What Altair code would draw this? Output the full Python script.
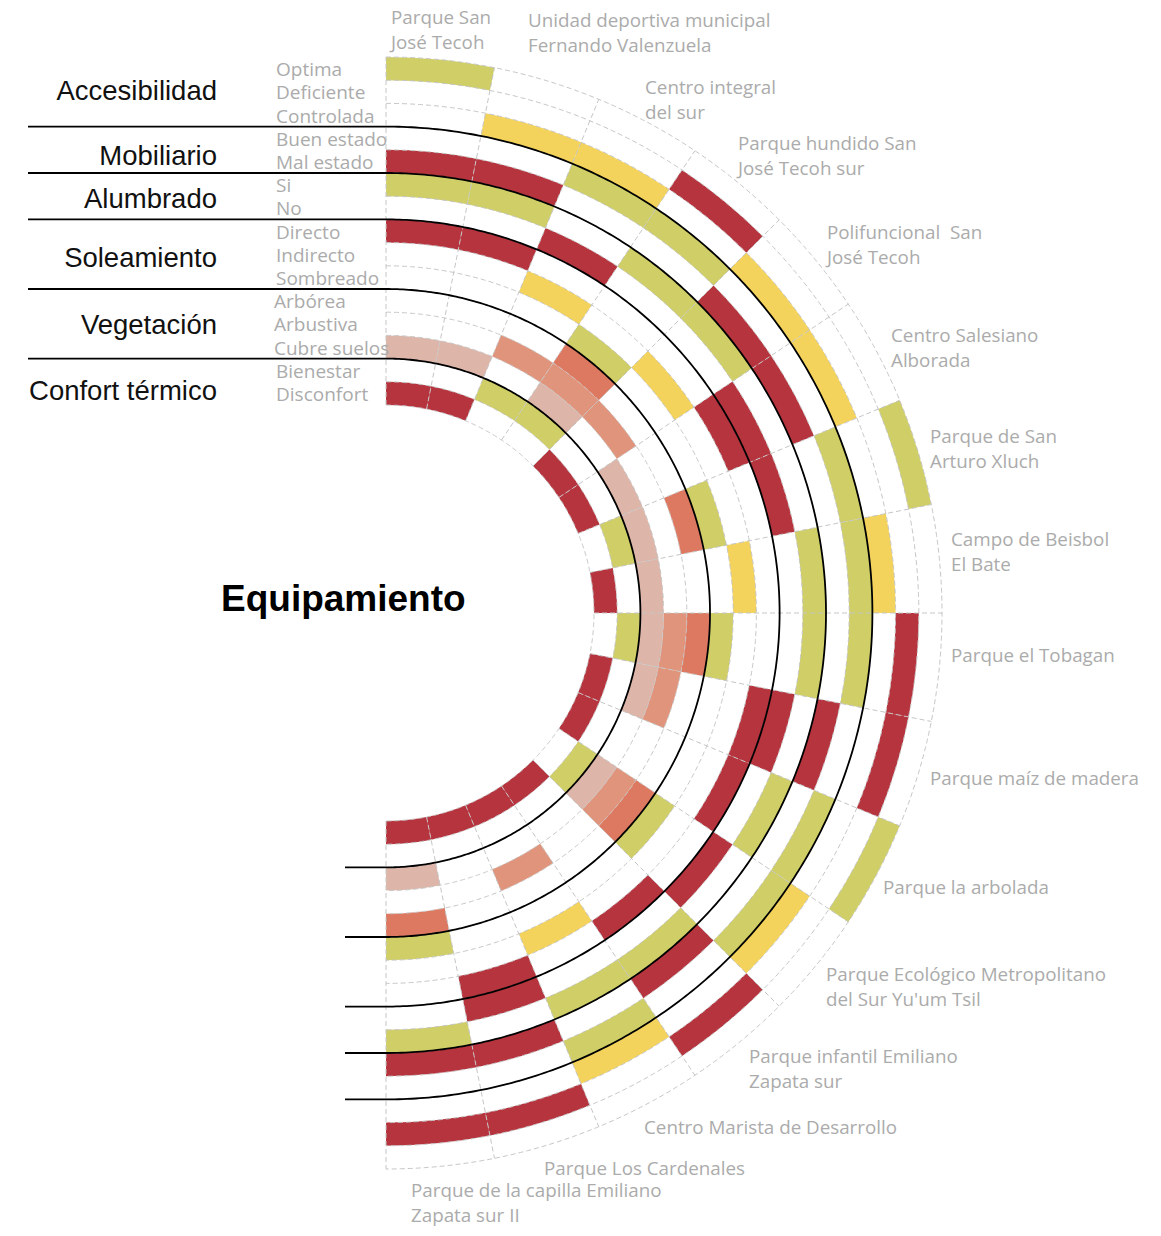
import math
import altair as alt
import pandas as pd

# ---------------------------------------------------------------- data
parks = [
    "Parque San\nJosé Tecoh",
    "Unidad deportiva municipal\nFernando Valenzuela",
    "Centro integral\ndel sur",
    "Parque hundido San\nJosé Tecoh sur",
    "Polifuncional\u00a0 San\nJosé Tecoh",
    "Centro Salesiano\nAlborada",
    "Parque de San\nArturo Xluch",
    "Campo de Beisbol\nEl Bate",
    "Parque el Tobagan",
    "Parque maíz de madera",
    "Parque la arbolada",
    "Parque Ecológico Metropolitano\ndel Sur Yu'um Tsil",
    "Parque infantil Emiliano\nZapata sur",
    "Centro Marista de Desarrollo",
    "Parque Los Cardenales",
    "Parque de la capilla Emiliano\nZapata sur II",
]

categories = ["Accesibilidad", "Mobiliario", "Alumbrado", "Soleamiento",
              "Vegetación", "Confort térmico"]
category_options = [
    ["Optima", "Deficiente", "Controlada"],
    ["Buen estado", "Mal estado"],
    ["Si", "No"],
    ["Directo", "Indirecto", "Sombreado"],
    ["Arbórea", "Arbustiva", "Cubre suelos"],
    ["Bienestar", "Disconfort"],
]

accesibilidad = ["Optima", "Controlada", "Controlada", "Deficiente", "Controlada",
                 "Controlada", "Optima", "Controlada", "Deficiente", "Deficiente",
                 "Optima", "Controlada", "Deficiente", "Controlada", "Deficiente",
                 "Deficiente"]
mobiliario = ["Mal estado", "Mal estado", "Buen estado", "Buen estado", "Mal estado",
              "Mal estado", "Buen estado", "Buen estado", "Buen estado", "Mal estado",
              "Buen estado", "Buen estado", "Mal estado", "Buen estado", "Mal estado",
              "Mal estado"]
alumbrado = [["Si"], ["Si"], ["No"], ["Si"], ["Si"], ["No"], ["No"], ["Si"], ["Si"],
             ["No"], ["Si"], ["No"], ["Si"], ["Si"], ["No"], ["Si"]]
soleamiento = [["Directo"], ["Directo"], ["Indirecto"], ["Sombreado"], ["Indirecto"],
               ["Directo"], ["Sombreado"], ["Indirecto"], ["Sombreado"], ["Directo"],
               ["Directo"], ["Sombreado"], ["Directo"], ["Indirecto"], ["Directo"],
               ["Sombreado"]]
vegetacion = [["Cubre suelos"], ["Cubre suelos"], ["Arbustiva"],
              ["Arbórea", "Arbustiva", "Cubre suelos"], ["Arbustiva"], ["Cubre suelos"],
              ["Arbórea", "Cubre suelos"], ["Cubre suelos"],
              ["Arbórea", "Arbustiva", "Cubre suelos"], ["Arbustiva", "Cubre suelos"],
              [], ["Arbórea", "Arbustiva", "Cubre suelos"], [], ["Arbustiva"], [],
              ["Arbórea", "Cubre suelos"]]
confort = ["Disconfort", "Disconfort", "Bienestar", "Bienestar", "Disconfort",
           "Disconfort", "Bienestar", "Disconfort", "Bienestar", "Disconfort",
           "Disconfort", "Bienestar", "Disconfort", "Disconfort", "Disconfort",
           "Disconfort"]

# ---------------------------------------------------------------- styles
GREEN, YELLOW, RED = "#CFCE67", "#F3D35B", "#B5343E"
DARK_S, MED_S, LIGHT_S = "#DE7961", "#E0947B", "#DDB6A9"
option_colors = {
    "Optima": GREEN, "Deficiente": RED, "Controlada": YELLOW,
    "Buen estado": GREEN, "Mal estado": RED,
    "Si": GREEN, "No": RED,
    "Directo": RED, "Indirecto": YELLOW, "Sombreado": GREEN,
    "Arbórea": DARK_S, "Arbustiva": MED_S, "Cubre suelos": LIGHT_S,
    "Bienestar": GREEN, "Disconfort": RED,
}
GRAY_TXT = "#ABABAB"
GRID = "#C6C6C6"
SANS = "Liberation Sans"
GRAY_FONT = "Open Sans"

# ---------------------------------------------------------------- layout
M = 8                       # page margin
W, H = 1145, 1219
CX, CY = 386 - M, 613 - M   # centre of the half circle (view coords)
R_IN, R_OUT = 208, 556
ring_options = [o for opts in category_options for o in opts]   # outer -> inner
N_RINGS = len(ring_options)
STEP = (R_OUT - R_IN) / N_RINGS
N_SECT = len(parks)

# park label anchors (page coords: left x, first baseline y)
park_label_pos = [(391, 24), (528, 27), (645, 94), (738, 150), (827, 238.5),
                  (891, 341.5), (930, 443), (951, 546), (951, 662), (930, 785),
                  (883, 894), (826, 981), (749, 1063), (644, 1134), (544, 1175),
                  (411, 1197)]
LINE_H = 25
cat_label_pos = [(217, 100), (217, 165), (217, 208), (217, 267), (217, 334), (217, 400)]
group_sep_levels = []
acc = 0
for opts in category_options[:-1]:
    acc += len(opts)
    group_sep_levels.append(N_RINGS - acc)

# ---------------------------------------------------------------- tables
rows = []
for k, park in enumerate(parks):
    chosen = ([accesibilidad[k], mobiliario[k]] + alumbrado[k] + soleamiento[k]
              + vegetacion[k] + [confort[k]])
    for opt in chosen:
        i = ring_options.index(opt)
        rows.append(dict(park=park.replace("\n", " "), t0=k, t1=k + 1,
                         lev_out=N_RINGS - i, lev_in=N_RINGS - i - 1, option=opt))
cells = pd.DataFrame(rows)

sub_df = pd.DataFrame({
    "option": ring_options,
    "lev": [N_RINGS - i - 0.5 for i in range(N_RINGS)],
    "t": [0] * N_RINGS,
    "veg": [o in category_options[4] for o in ring_options],
})

lab_rows = []
for k, park in enumerate(parks):
    x0, y0 = park_label_pos[k]
    for j, line in enumerate(park.split("\n")):
        lab_rows.append(dict(text=line, x=x0 - M, y=y0 - M + j * LINE_H))
park_labels = pd.DataFrame(lab_rows)

cat_df = pd.DataFrame({
    "text": categories,
    "x": [p[0] - M for p in cat_label_pos],
    "y": [p[1] - M for p in cat_label_pos],
})

# ---------------------------------------------------------------- scales
theta_scale = alt.Scale(domain=[0, 2 * N_SECT], range=[0, 2 * math.pi])
radius_scale = alt.Scale(type="linear", domain=[0, N_RINGS], range=[R_IN, R_OUT], zero=False)
color_scale = alt.Scale(domain=ring_options, range=[option_colors[o] for o in ring_options])

arcs = alt.Chart(cells).mark_arc(strokeWidth=0).encode(
    theta=alt.Theta("t0:Q", scale=theta_scale, stack=None),
    theta2="t1:Q",
    radius=alt.Radius("lev_out:Q", scale=radius_scale, stack=None),
    radius2="lev_in:Q",
    color=alt.Color("option:N", scale=color_scale, legend=None),
    x=alt.value(CX), y=alt.value(CY),
    tooltip=["park:N", "option:N"],
)

circles = alt.Chart(pd.DataFrame({"lev": list(range(N_RINGS + 1))})).transform_calculate(
    deg="sequence(0, 180.25, 0.25)"
).transform_flatten(["deg"]).transform_calculate(
    r=f"{R_IN} + datum.lev * {STEP}"
).transform_calculate(
    px=f"{CX} + datum.r * sin(datum.deg * PI / 180)"
).transform_calculate(
    py=f"{CY} - datum.r * cos(datum.deg * PI / 180)"
).mark_line(stroke=GRID, strokeWidth=1, strokeDash=[5, 3]).encode(
    x=alt.X("px:Q", scale=None, axis=None),
    y=alt.Y("py:Q", scale=None, axis=None),
    detail="lev:N", order="deg:Q",
)

spokes = alt.Chart(pd.DataFrame({"b": list(range(N_SECT + 1))})).transform_calculate(
    a=f"datum.b * PI / {N_SECT}"
).transform_calculate(
    sx1=f"{CX} + {R_IN} * sin(datum.a)",
    sy1=f"{CY} - {R_IN} * cos(datum.a)",
    sx2=f"{CX} + {R_OUT} * sin(datum.a)",
    sy2=f"{CY} - {R_OUT} * cos(datum.a)",
).mark_rule(stroke=GRID, strokeWidth=1, strokeDash=[5, 3]).encode(
    x=alt.X("sx1:Q", scale=None, axis=None),
    y=alt.Y("sy1:Q", scale=None, axis=None),
    x2="sx2:Q", y2="sy2:Q",
)

LEFT_X, BOT_X = 28 - M, 345 - M
black = alt.Chart(pd.DataFrame({"lev": group_sep_levels})).transform_calculate(
    deg="sequence(-0.5, 181, 0.5)"
).transform_flatten(["deg"]).transform_calculate(
    r=f"{R_IN} + datum.lev * {STEP}"
).transform_calculate(
    px=f"datum.deg < 0 ? {LEFT_X} : (datum.deg > 180 ? {BOT_X} : {CX} + datum.r * sin(datum.deg * PI / 180))"
).transform_calculate(
    py=f"datum.deg < 0 ? {CY} - datum.r : (datum.deg > 180 ? {CY} + datum.r : {CY} - datum.r * cos(datum.deg * PI / 180))"
).mark_line(stroke="black", strokeWidth=1.8).encode(
    x=alt.X("px:Q", scale=None, axis=None),
    y=alt.Y("py:Q", scale=None, axis=None),
    detail="lev:N", order="deg:Q",
)


def sub_label_layer(is_veg, dx):
    return alt.Chart(sub_df[sub_df["veg"] == is_veg]).mark_text(
        align="left", baseline="middle", dx=dx, dy=1.5, font=GRAY_FONT,
        fontSize=19, color=GRAY_TXT
    ).encode(
        theta=alt.Theta("t:Q", scale=theta_scale, stack=None),
        radius=alt.Radius("lev:Q", scale=radius_scale, stack=None),
        x=alt.value(CX), y=alt.value(CY),
        text="option:N",
    )


sub_labels_a = sub_label_layer(False, -110)
sub_labels_b = sub_label_layer(True, -112)

park_text = alt.Chart(park_labels).mark_text(
    align="left", baseline="alphabetic", font=GRAY_FONT, fontSize=18.8, color=GRAY_TXT
).encode(
    x=alt.X("x:Q", scale=None, axis=None),
    y=alt.Y("y:Q", scale=None, axis=None),
    text="text:N",
)

cat_text = alt.Chart(cat_df).mark_text(
    align="right", baseline="alphabetic", font=SANS, fontSize=27.5, color="#111111"
).encode(
    x=alt.X("x:Q", scale=None, axis=None),
    y=alt.Y("y:Q", scale=None, axis=None),
    text="text:N",
)

title = alt.Chart(pd.DataFrame({"text": ["Equipamiento"]})).mark_text(
    align="left", baseline="alphabetic", font=SANS, fontSize=37, fontWeight="bold",
    color="black"
).encode(
    x=alt.value(221 - M), y=alt.value(611 - M), text="text:N",
)

chart = alt.layer(
    arcs, circles, spokes, black, sub_labels_a, sub_labels_b, park_text, cat_text, title
).properties(
    width=W, height=H, padding=0,
    autosize=alt.AutoSizeParams(type="none"),
    background="white",
).configure_view(stroke=None)

chart.save("out.html", embed_options={"renderer": "svg", "actions": False})
